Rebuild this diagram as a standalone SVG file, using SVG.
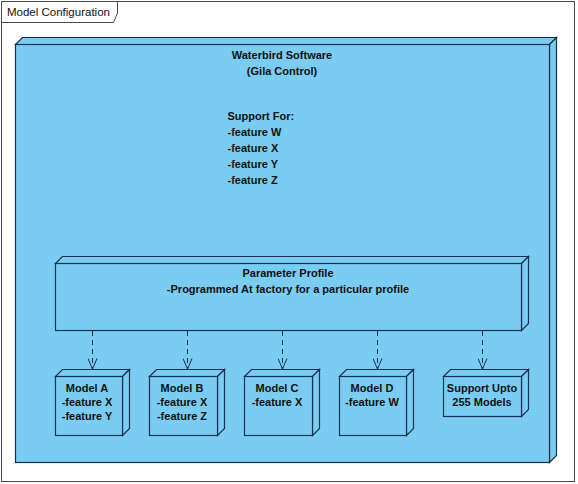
<svg xmlns="http://www.w3.org/2000/svg" width="578" height="484" viewBox="0 0 578 484">
<style>
.frame{fill:#fff;stroke:#4a4a4a;stroke-width:1}
.face{fill:#7accf2;stroke:#17304f;stroke-width:1.2;stroke-linejoin:miter}
.t{font-family:"Liberation Sans",Arial,sans-serif;font-size:11px;font-weight:bold;fill:#111}
.tc{text-anchor:middle}
.conn{fill:none;stroke:#17304f;stroke-width:1}
.dash{stroke-dasharray:5,4}
</style>
<defs>
<marker id="open" viewBox="0 0 12 10" refX="11" refY="5" markerWidth="12" markerHeight="10" markerUnits="userSpaceOnUse" orient="auto">
<path d="M0.5,0.5 L11,5 L0.5,9.5" fill="none" stroke="#17304f" stroke-width="1"/>
</marker>
</defs>
<rect width="578" height="484" fill="#fff"/>
<g id="frame">
<rect class="frame" x="1.5" y="1.5" width="573" height="480"/>
<path class="frame" d="M1.5,1.5 H117.5 V13 L113.5,22.5 H1.5 Z"/>
<text x="7" y="16" font-family="'Liberation Sans',Arial,sans-serif" font-size="11.5" fill="#111">Model Configuration</text>
</g>
<g id="waterbird">
<polygon class="face" points="15.5,44.5 22.5,37.5 556.5,37.5 549.5,44.5"/>
<polygon class="face" points="549.5,44.5 556.5,37.5 556.5,455.5 549.5,462.5"/>
<rect class="face" x="15.5" y="44.5" width="534" height="418"/>
<text class="t tc" x="282" y="59">Waterbird Software</text>
<text class="t tc" x="282" y="75">(Gila Control)</text>
<text class="t" x="227.5" y="119.5">Support For:</text>
<text class="t" x="227.5" y="135.5">-feature W</text>
<text class="t" x="227.5" y="151.5">-feature X</text>
<text class="t" x="227.5" y="167.5">-feature Y</text>
<text class="t" x="227.5" y="183.5">-feature Z</text>
</g>
<g id="parameter-profile">
<polygon class="face" points="55.5,263.5 62.5,256.5 528.5,256.5 521.5,263.5"/>
<polygon class="face" points="521.5,263.5 528.5,256.5 528.5,323.5 521.5,330.5"/>
<rect class="face" x="55.5" y="263.5" width="466" height="67"/>
<text class="t tc" x="288" y="277">Parameter Profile</text>
<text class="t tc" x="288" y="293">-Programmed At factory for a particular profile</text>
</g>
<g id="model-a">
<polygon class="face" points="55.5,376.5 62.5,369.5 129.5,369.5 122.5,376.5"/>
<polygon class="face" points="122.5,376.5 129.5,369.5 129.5,428.5 122.5,435.5"/>
<rect class="face" x="55.5" y="376.5" width="67" height="59"/>
<text class="t tc" x="87" y="392">Model A</text>
<text class="t tc" x="87" y="406">-feature X</text>
<text class="t tc" x="87" y="420">-feature Y</text>
</g>
<g id="model-b">
<polygon class="face" points="149.5,376.5 156.5,369.5 224.5,369.5 217.5,376.5"/>
<polygon class="face" points="217.5,376.5 224.5,369.5 224.5,428.5 217.5,435.5"/>
<rect class="face" x="149.5" y="376.5" width="68" height="59"/>
<text class="t tc" x="182" y="392">Model B</text>
<text class="t tc" x="182" y="406">-feature X</text>
<text class="t tc" x="182" y="420">-feature Z</text>
</g>
<g id="model-c">
<polygon class="face" points="244.5,376.5 251.5,369.5 319.5,369.5 312.5,376.5"/>
<polygon class="face" points="312.5,376.5 319.5,369.5 319.5,428.5 312.5,435.5"/>
<rect class="face" x="244.5" y="376.5" width="68" height="59"/>
<text class="t tc" x="277" y="392">Model C</text>
<text class="t tc" x="277" y="406">-feature X</text>
</g>
<g id="model-d">
<polygon class="face" points="339.5,376.5 346.5,369.5 413.5,369.5 406.5,376.5"/>
<polygon class="face" points="406.5,376.5 413.5,369.5 413.5,428.5 406.5,435.5"/>
<rect class="face" x="339.5" y="376.5" width="67" height="59"/>
<text class="t tc" x="372" y="392">Model D</text>
<text class="t tc" x="372" y="406">-feature W</text>
</g>
<g id="support-upto">
<polygon class="face" points="443.5,376.5 450.5,369.5 528.5,369.5 521.5,376.5"/>
<polygon class="face" points="521.5,376.5 528.5,369.5 528.5,409.5 521.5,416.5"/>
<rect class="face" x="443.5" y="376.5" width="78" height="40"/>
<text class="t tc" x="482" y="392">Support Upto</text>
<text class="t tc" x="482" y="406">255 Models</text>
</g>
<g id="connectors">
<line class="conn dash" x1="92.5" y1="331" x2="92.5" y2="369" marker-end="url(#open)"/>
<line class="conn dash" x1="187.5" y1="331" x2="187.5" y2="369" marker-end="url(#open)"/>
<line class="conn dash" x1="282.5" y1="331" x2="282.5" y2="369" marker-end="url(#open)"/>
<line class="conn dash" x1="377.5" y1="331" x2="377.5" y2="369" marker-end="url(#open)"/>
<line class="conn dash" x1="482.5" y1="331" x2="482.5" y2="369" marker-end="url(#open)"/>
</g>
</svg>
